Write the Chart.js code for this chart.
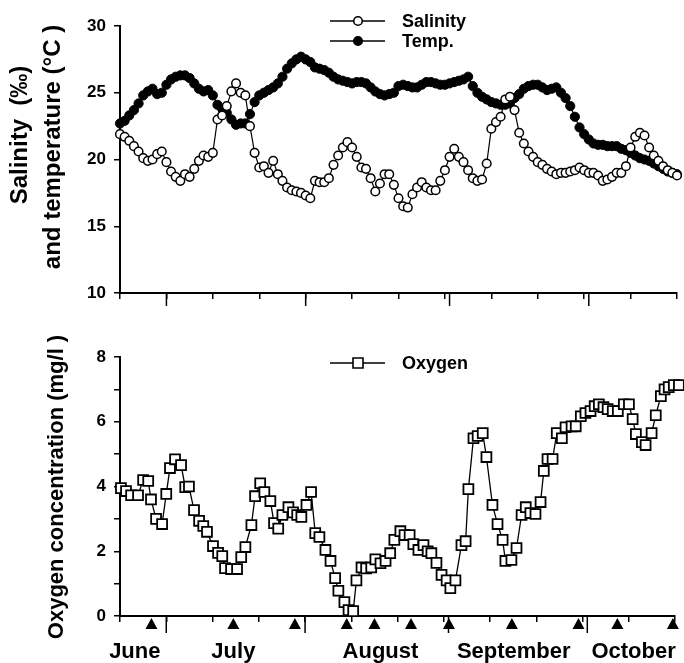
<!DOCTYPE html>
<html>
<head>
<meta charset="utf-8">
<script src="https://cdn.jsdelivr.net/npm/chart.js@4.4.1/dist/chart.umd.min.js"></script>
<style>
  body { margin: 0; background: #fff; }
  #wrap { position: relative; width: 684px; height: 663px; }
  #top { position: absolute; left: 0; top: 0; }
  #bottom { position: absolute; left: 0; top: 330px; }
</style>
</head>
<body>
<div id="wrap">
  <canvas id="top" width="684" height="330"></canvas>
  <canvas id="bottom" width="684" height="333"></canvas>
</div>
<script>
// days from start of record (0..120), one sample per day
const salinity = [
  21.9, 21.7, 21.4, 21.0, 20.6, 20.1, 19.9, 20.0, 20.4, 20.6,
  19.8, 19.1, 18.7, 18.4, 18.9, 18.7, 19.3, 19.9, 20.3, 20.2,
  20.5, 23.0, 23.3, 24.0, 25.1, 25.7, 25.0, 24.8, 22.5, 20.5,
  19.4, 19.5, 19.0, 19.9, 18.9, 18.4, 17.9, 17.7, 17.6, 17.5,
  17.3, 17.1, 18.4, 18.3, 18.3, 18.6, 19.6, 20.3, 20.9, 21.3,
  20.9, 20.2, 19.4, 19.3, 18.6, 17.6, 18.2, 18.9, 18.9, 18.1,
  17.1, 16.5, 16.4, 17.4, 17.9, 18.3, 17.9, 17.7, 17.7, 18.4,
  19.2, 20.2, 20.8, 20.2, 19.8, 19.2, 18.6, 18.4, 18.5, 19.7,
  22.3, 22.8, 23.2, 24.5, 24.7, 23.7, 22.0, 21.2, 20.6, 20.2,
  19.8, 19.6, 19.3, 19.1, 18.9, 19.0, 19.0, 19.1, 19.2, 19.4,
  19.2, 19.0, 19.0, 18.8, 18.4, 18.5, 18.7, 19.0, 19.0, 19.5,
  20.9, 21.7, 22.0, 21.8, 20.9, 20.3, 19.9, 19.5, 19.2, 19.0,
  18.8
];
const temperature = [
  22.7, 22.9, 23.3, 23.7, 24.2, 24.8, 25.1, 25.3, 24.9, 25.0,
  25.6, 26.0, 26.2, 26.3, 26.3, 26.1, 25.7, 25.3, 25.1, 25.2,
  24.8, 24.1, 23.8, 23.5, 23.0, 22.6, 22.7, 22.7, 23.4, 24.3,
  24.8, 25.0, 25.2, 25.4, 25.7, 26.2, 26.8, 27.2, 27.5, 27.7,
  27.5, 27.3, 26.9, 26.8, 26.7, 26.5, 26.2, 26.0, 25.9, 25.8,
  25.7, 25.8, 25.8, 25.7, 25.4, 25.1, 24.9, 24.8, 24.9, 25.0,
  25.5, 25.6, 25.5, 25.4, 25.4, 25.6, 25.8, 25.8, 25.7, 25.6,
  25.6, 25.7, 25.8, 25.9, 26.0, 26.2, 25.5, 25.0, 24.7, 24.5,
  24.3, 24.2, 24.1, 24.1, 24.2, 24.6, 24.9, 25.3, 25.5, 25.6,
  25.6, 25.4, 25.2, 25.3, 25.4, 25.0, 24.6, 24.0, 23.2, 22.4,
  21.9, 21.5, 21.2, 21.1, 21.1, 21.0, 21.0, 21.0, 20.8, 20.7,
  20.5, 20.3, 20.1, 20.0, 19.9, 19.7, 19.5, 19.3, 19.1, 19.0,
  18.9
];
const oxygenDays = [
  0.2, 1.3, 2.4, 3.9, 5.0, 6.1, 6.7, 7.8, 9.1, 10.0,
  10.8, 11.9, 13.2, 14.1, 14.9, 16.0, 17.1, 18.0, 18.8, 20.1,
  21.2, 22.1, 22.7, 24.0, 25.3, 26.2, 27.1, 28.4, 29.2, 30.3,
  31.2, 32.5, 33.3, 34.2, 35.1, 36.4, 37.4, 38.3, 39.2, 40.3,
  41.3, 42.2, 43.1, 44.4, 45.5, 46.5, 47.2, 48.5, 49.4, 50.4,
  51.1, 52.2, 53.2, 54.3, 55.2, 56.3, 57.4, 58.4, 59.3, 60.6,
  61.5, 62.6, 63.4, 64.5, 65.6, 66.5, 67.3, 68.4, 69.5, 70.6,
  71.4, 72.5, 73.8, 74.7, 75.3, 76.4, 77.3, 78.4, 79.2, 80.5,
  81.6, 82.7, 83.3, 84.6, 85.7, 86.8, 87.7, 88.7, 89.8, 90.9,
  91.6, 92.4, 93.5, 94.4, 95.5, 96.3, 97.6, 98.5, 99.6, 100.6,
  101.7, 102.6, 103.5, 104.5, 105.4, 106.5, 107.6, 108.9, 110.0, 110.8,
  111.5, 112.8, 113.6, 114.9, 115.8, 116.9, 117.7, 118.6, 119.7, 120.8
];
const oxygen = [
  3.95, 3.86, 3.73, 3.73, 4.2, 4.17, 3.6, 3.0, 2.84, 3.77,
  4.57, 4.84, 4.66, 3.98, 4.0, 3.27, 2.94, 2.78, 2.6, 2.16,
  1.95, 1.85, 1.48, 1.45, 1.45, 1.82, 2.13, 2.81, 3.7, 4.1,
  3.83, 3.55, 2.87, 2.7, 3.12, 3.36, 3.2, 3.12, 3.06, 3.43,
  3.83, 2.56, 2.44, 2.04, 1.7, 1.17, 0.78, 0.43, 0.18, 0.15,
  1.1, 1.5, 1.47, 1.5, 1.75, 1.63, 1.7, 1.94, 2.35, 2.62,
  2.5, 2.5, 2.22, 2.04, 2.19, 2.0, 1.94, 1.64, 1.27, 1.1,
  0.86, 1.1, 2.19, 2.31, 3.92, 5.49, 5.56, 5.65, 4.91, 3.43,
  2.84, 2.35, 1.7, 1.73, 2.1, 3.12, 3.36, 3.18, 3.15, 3.52,
  4.48, 4.85, 4.85, 5.65, 5.49, 5.83, 5.86, 5.86, 6.17, 6.27,
  6.33, 6.48, 6.54, 6.45, 6.39, 6.33, 6.33, 6.54, 6.54, 6.08,
  5.62, 5.37, 5.28, 5.65, 6.2, 6.79, 7.0, 7.07, 7.13, 7.13
];
// sampling dates marked by triangles under the lower axis
const markerDays = [6.8, 24.5, 37.8, 49.0, 55.0, 62.9, 71.1, 84.7, 99.1, 107.5, 119.5];
const markerLevel = -0.28;
const monthNames = ['June', 'July', 'August', 'September', 'October'];
const monthLabelDays = [3.2, 24.5, 56.3, 85.1, 111.0];
const monthStartDays = [10, 40, 71, 101];

const FONT = '"Liberation Sans", Arial, Helvetica, sans-serif';

function drawMarker(ctx, style, x, y) {
  ctx.beginPath();
  if (style === 'rect') {
    ctx.rect(x - 5, y - 5, 10, 10);
  } else {
    ctx.arc(x, y, 4.3, 0, Math.PI * 2);
  }
  ctx.fillStyle = style === 'filled' ? '#000' : '#fff';
  ctx.fill();
  ctx.lineWidth = 1.6;
  ctx.strokeStyle = '#000';
  ctx.stroke();
}

const decor = {
  id: 'decor',
  afterDraw(chart, args, opts) {
    const ctx = chart.ctx;
    const xs = chart.scales.x;
    const ys = chart.scales.y;
    const area = chart.chartArea;
    ctx.save();
    ctx.strokeStyle = '#000';
    ctx.fillStyle = '#000';

    // longer ticks at month starts
    ctx.lineWidth = 1.5;
    monthStartDays.forEach(d => {
      const px = xs.getPixelForValue(d);
      ctx.beginPath();
      ctx.moveTo(px, area.bottom);
      ctx.lineTo(px, area.bottom + opts.longTick);
      ctx.stroke();
    });

    // sampling triangles below the axis
    if (opts.markers) {
      markerDays.forEach(d => {
        const px = xs.getPixelForValue(d);
        const py = ys.getPixelForValue(markerLevel);
        ctx.beginPath();
        ctx.moveTo(px, py - 7);
        ctx.lineTo(px + 6, py + 4);
        ctx.lineTo(px - 6, py + 4);
        ctx.closePath();
        ctx.fill();
      });
    }

    // rotated axis titles
    ctx.textAlign = 'center';
    ctx.textBaseline = 'middle';
    opts.titles.forEach(t => {
      ctx.save();
      ctx.font = 'bold ' + t.size + 'px ' + FONT;
      ctx.translate(t.x, t.y);
      ctx.rotate(-Math.PI / 2);
      ctx.fillText(t.text, 0, 0);
      ctx.restore();
    });

    // month names under the lower panel
    if (opts.months) {
      ctx.font = 'bold 22px ' + FONT;
      monthNames.forEach((m, i) => {
        ctx.fillText(m, xs.getPixelForValue(monthLabelDays[i]), opts.monthY);
      });
    }

    // legend
    opts.legend.forEach(item => {
      ctx.lineWidth = 1.3;
      ctx.beginPath();
      ctx.moveTo(330, item.y);
      ctx.lineTo(385, item.y);
      ctx.stroke();
      drawMarker(ctx, item.style, 358, item.y);
      ctx.fillStyle = '#000';
      ctx.font = 'bold 18px ' + FONT;
      ctx.textAlign = 'left';
      ctx.fillText(item.label, 402, item.y + 1);
    });
    ctx.restore();
  }
};

function xAxis(height) {
  return {
    type: 'linear',
    min: 0,
    max: 120,
    afterFit: s => { s.height = height; },
    ticks: { stepSize: 10, callback: () => '' },
    grid: { drawOnChartArea: false, drawTicks: true, tickLength: 6, color: '#000', lineWidth: 1.5 },
    border: { display: true, color: '#000', width: 2 }
  };
}

new Chart(document.getElementById('top'), {
  type: 'scatter',
  data: {
    datasets: [
      {
        label: 'Salinity',
        data: salinity.map((v, i) => ({ x: i, y: v })),
        showLine: true,
        borderColor: '#000',
        borderWidth: 1.2,
        pointRadius: 4.3,
        pointBorderWidth: 1.5,
        pointBackgroundColor: '#fff',
        pointBorderColor: '#000',
        clip: false
      },
      {
        label: 'Temp.',
        data: temperature.map((v, i) => ({ x: i, y: v })),
        showLine: true,
        borderColor: '#000',
        borderWidth: 1.2,
        pointRadius: 4.6,
        pointBorderWidth: 1,
        pointBackgroundColor: '#000',
        pointBorderColor: '#000',
        clip: false
      }
    ]
  },
  options: {
    responsive: false,
    animation: false,
    layout: { padding: { top: 26, right: 7, left: 0, bottom: 0 } },
    scales: {
      x: xAxis(37),
      y: {
        min: 10,
        max: 30,
        afterFit: s => { s.width = 120; },
        ticks: { stepSize: 5, color: '#000', padding: 8, font: { family: FONT, size: 17, weight: 'bold' } },
        grid: { drawOnChartArea: false, tickLength: 6, color: '#000', lineWidth: 1.5 },
        border: { display: true, color: '#000', width: 2 }
      }
    },
    plugins: {
      legend: { display: false },
      tooltip: { enabled: false },
      decor: {
        longTick: 13,
        titles: [
          { text: 'Salinity  (‰)', x: 20, y: 135, size: 24 },
          { text: 'and temperature (°C )', x: 53, y: 147, size: 24 }
        ],
        legend: [
          { label: 'Salinity', style: 'open', y: 21 },
          { label: 'Temp.', style: 'filled', y: 41 }
        ]
      }
    }
  },
  plugins: [decor]
});

new Chart(document.getElementById('bottom'), {
  type: 'scatter',
  data: {
    datasets: [
      {
        label: 'Oxygen',
        data: oxygenDays.map((d, i) => ({ x: d, y: oxygen[i] })),
        showLine: true,
        borderColor: '#000',
        borderWidth: 1.3,
        pointStyle: 'rect',
        pointRadius: 7,
        pointBorderWidth: 1.8,
        pointBackgroundColor: '#fff',
        pointBorderColor: '#000',
        clip: false
      }
    ]
  },
  options: {
    responsive: false,
    animation: false,
    layout: { padding: { top: 27, right: 7, left: 0, bottom: 0 } },
    scales: {
      x: xAxis(47),
      y: {
        min: 0,
        max: 8,
        afterFit: s => { s.width = 120; },
        ticks: {
          stepSize: 1,
          color: '#000',
          padding: 8,
          font: { family: FONT, size: 17, weight: 'bold' },
          callback: v => (v % 2 === 0 ? String(v) : '')
        },
        grid: { drawOnChartArea: false, tickLength: 6, color: '#000', lineWidth: 1.5 },
        border: { display: true, color: '#000', width: 2 }
      }
    },
    plugins: {
      legend: { display: false },
      tooltip: { enabled: false },
      decor: {
        longTick: 17,
        months: true,
        markers: true,
        monthY: 322,
        titles: [
          { text: 'Oxygen concentration (mg/l )', x: 57, y: 157, size: 22 }
        ],
        legend: [
          { label: 'Oxygen', style: 'rect', y: 33 }
        ]
      }
    }
  },
  plugins: [decor]
});
</script>
</body>
</html>
